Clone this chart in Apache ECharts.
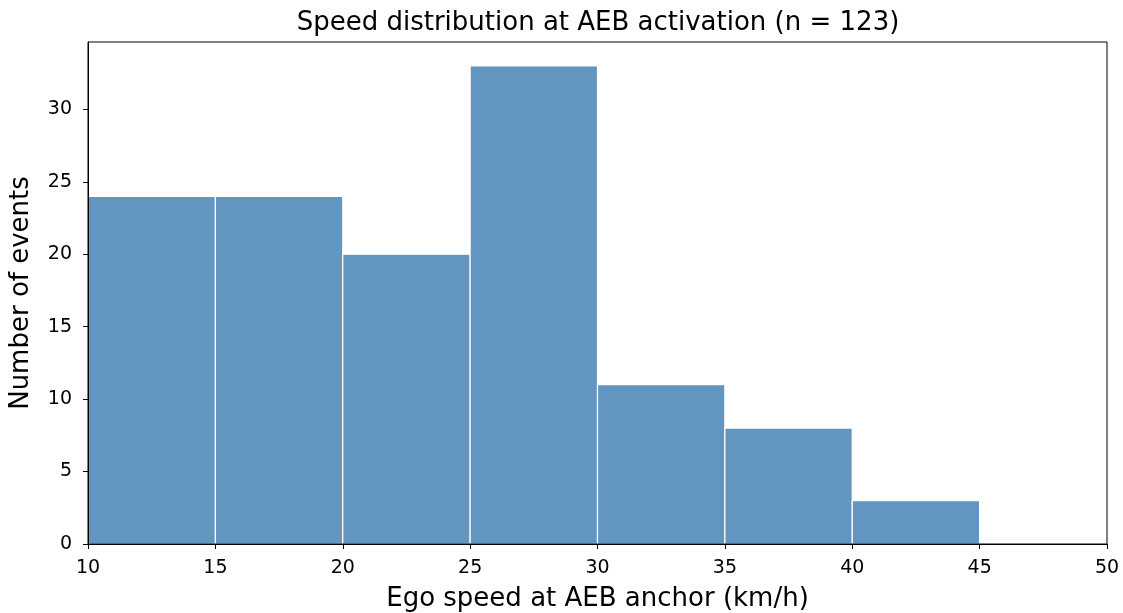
<!DOCTYPE html>
<html>
<head>
<meta charset="utf-8">
<script src="https://cdn.jsdelivr.net/npm/echarts@6/dist/echarts.min.js"></script>
<style>html,body{margin:0;padding:0;background:#fff}#c{width:1123px;height:613px}</style>
</head>
<body>
<div id="c"></div>
<script>
const binStarts = [10, 15, 20, 25, 30, 35, 40];
const binWidth = 5;
const counts = [24, 24, 20, 33, 11, 8, 3];
const xTicks = [10, 15, 20, 25, 30, 35, 40, 45, 50];
const yTicks = [0, 5, 10, 15, 20, 25, 30];
const titleText = 'Speed distribution at AEB activation (n = 123)';
const xLabel = 'Ego speed at AEB anchor (km/h)';
const yLabel = 'Number of events';

const data = binStarts.map((s, i) => [s, s + binWidth, counts[i]]);
const font = 'DejaVu Sans';
const chart = echarts.init(document.getElementById('c'), null, {renderer: 'canvas'});
chart.setOption({
  animation: false,
  title: {text: titleText, left: 598, top: 10, padding: 0, textAlign: 'center',
    textStyle: {fontFamily: font, fontSize: 26, fontWeight: 'normal', color: '#000'}},
  grid: {left: 88, right: 16, top: 42, bottom: 69, containLabel: false, outerBoundsMode: 'none',
    show: true, borderColor: '#000', borderWidth: 1, z: 10},
  xAxis: {type: 'value', min: 10, max: 50, interval: 5, z: 10,
    name: xLabel, nameLocation: 'middle', nameGap: 42,
    nameTextStyle: {fontFamily: font, fontSize: 26, color: '#000'},
    axisLine: {show: true, lineStyle: {color: '#000', width: 1}},
    axisTick: {show: true, length: 5, lineStyle: {color: '#000'}, customValues: xTicks},
    axisLabel: {fontFamily: font, fontSize: 19, color: '#000', margin: 15, customValues: xTicks},
    splitLine: {show: false}},
  yAxis: {type: 'value', min: 0, max: 34.65, z: 10,
    name: yLabel, nameLocation: 'middle', nameGap: 54, nameRotate: 90,
    nameTextStyle: {fontFamily: font, fontSize: 26, color: '#000'},
    axisLine: {show: true, lineStyle: {color: '#000', width: 1}},
    axisTick: {show: true, length: 5, lineStyle: {color: '#000'}, customValues: yTicks},
    axisLabel: {fontFamily: font, fontSize: 19, color: '#000', margin: 16, customValues: yTicks},
    splitLine: {show: false}},
  series: [{
    type: 'custom',
    data: data,
    encode: {x: [0, 1], y: 2},
    renderItem: function (params, api) {
      const p0 = api.coord([api.value(0), api.value(2)]);
      const p1 = api.coord([api.value(1), 0]);
      return {type: 'rect',
        shape: {x: p0[0], y: p0[1], width: p1[0] - p0[0], height: p1[1] - p0[1]},
        style: {fill: '#6295bf', stroke: '#ffffff', lineWidth: 1.2}};
    }
  }]
});
</script>
</body>
</html>
